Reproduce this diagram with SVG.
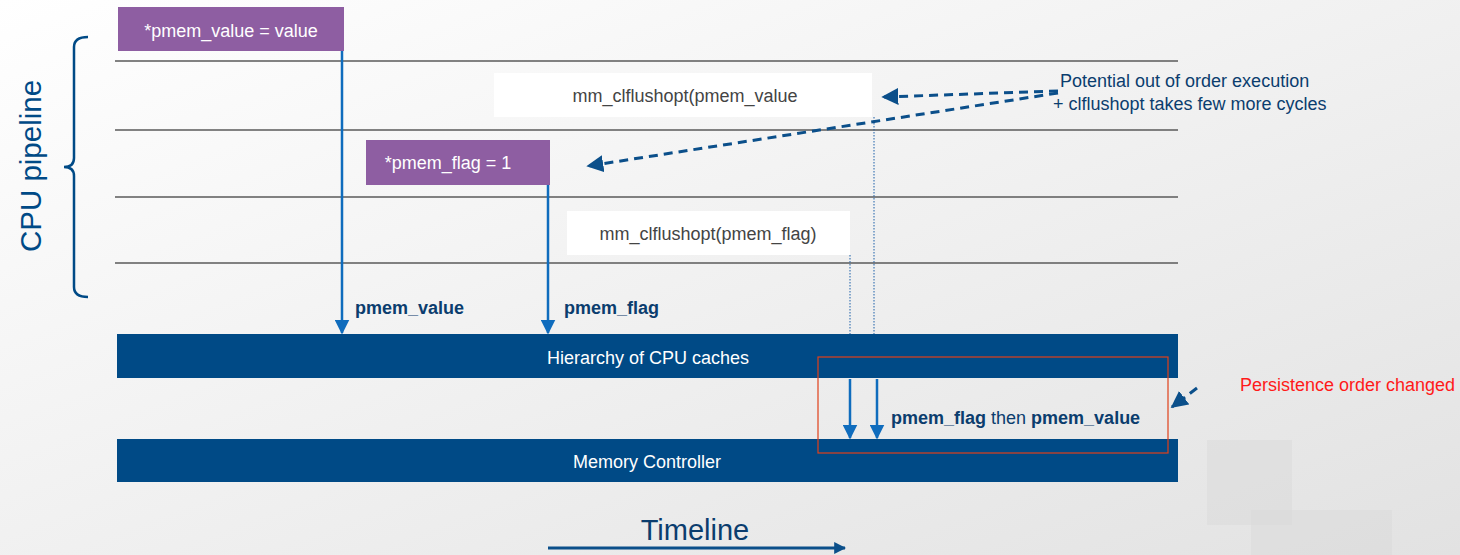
<svg xmlns="http://www.w3.org/2000/svg" width="1460" height="555" viewBox="0 0 1460 555">
  <defs>
    <linearGradient id="bg" x1="0" y1="0" x2="1" y2="1">
      <stop offset="0" stop-color="#ffffff"/>
      <stop offset="1" stop-color="#e2e2e2"/>
    </linearGradient>
    <marker id="ahSolid" viewBox="0 0 10 10" refX="9" refY="5" markerWidth="15" markerHeight="15" markerUnits="userSpaceOnUse" orient="auto">
      <path d="M0,0 L10,5 L0,10 z" fill="#0f6cbd"/>
    </marker>
    <marker id="ahDash" viewBox="0 0 10 10" refX="9" refY="5" markerWidth="17" markerHeight="17" markerUnits="userSpaceOnUse" orient="auto">
      <path d="M0,0 L10,5 L0,10 z" fill="#0b4f8a"/>
    </marker>
    <marker id="ahTime" viewBox="0 0 10 10" refX="9" refY="5" markerWidth="12" markerHeight="12" markerUnits="userSpaceOnUse" orient="auto">
      <path d="M0,0 L10,5 L0,10 z" fill="#0b4f8a"/>
    </marker>
    <style>
      .lane { stroke: #5a5a5a; stroke-width: 1.5; }
      .op { fill: #8e5ea2; }
      .opText { font-family: "Liberation Sans", Arial, sans-serif; font-size: 18px; fill: #ffffff; text-anchor: middle; }
      .flush { fill: #ffffff; }
      .flushText { font-family: "Liberation Sans", Arial, sans-serif; font-size: 18px; fill: #444444; text-anchor: middle; }
      .bar { fill: #004a86; }
      .barText { font-family: "Liberation Sans", Arial, sans-serif; font-size: 18px; fill: #ffffff; text-anchor: middle; }
      .flow { stroke: #0f6cbd; stroke-width: 2.5; fill: none; marker-end: url(#ahSolid); }
      .dot { stroke: #1a5fa8; stroke-width: 1; stroke-dasharray: 1.5 1.5; fill: none; }
      .dash { stroke: #0b4f8a; stroke-width: 3; stroke-dasharray: 9 6; fill: none; marker-end: url(#ahDash); }
      .lbl { font-family: "Liberation Sans", Arial, sans-serif; font-size: 18px; fill: #0b3d6e; }
      .bold { font-weight: bold; }
      .note { font-family: "Liberation Sans", Arial, sans-serif; font-size: 18px; fill: #0b3d6e; }
    </style>
  </defs>

  <!-- background -->
  <rect x="0" y="0" width="1460" height="555" fill="url(#bg)"/>
  <rect x="1207" y="440" width="85" height="85" fill="#d6d6d6" opacity="0.4"/>
  <rect x="1251" y="510" width="141" height="45" fill="#d6d6d6" opacity="0.4"/>

  <!-- pipeline stage separators -->
  <g id="lanes">
    <line class="lane" x1="115" y1="61" x2="1178" y2="61"/>
    <line class="lane" x1="115" y1="130" x2="1178" y2="130"/>
    <line class="lane" x1="115" y1="197" x2="1178" y2="197"/>
    <line class="lane" x1="115" y1="263" x2="1178" y2="263"/>
  </g>

  <!-- bracket and pipeline label -->
  <g id="cpu-pipeline">
    <path d="M88,37 Q74,37 74,47 L74,158 Q74,167 64,167 Q74,167 74,176 L74,287 Q74,297 88,297" fill="none" stroke="#004a86" stroke-width="2.5"/>
    <text x="30" y="166" transform="rotate(-90 30 166)" font-family="Liberation Sans, Arial, sans-serif" font-size="29.5" fill="#004a86" text-anchor="middle" dominant-baseline="central">CPU pipeline</text>
  </g>

  <!-- connectors -->
  <g id="connectors">
    <line class="flow" x1="342" y1="51" x2="342" y2="333"/>
    <line class="flow" x1="548" y1="185" x2="548" y2="333"/>
    <line class="dot" x1="850" y1="255" x2="850" y2="334"/>
    <line class="dot" x1="874" y1="117" x2="874" y2="334"/>
    <line class="flow" x1="850" y1="379" x2="850" y2="438"/>
    <line class="flow" x1="877" y1="379" x2="877" y2="438"/>
    <line class="dash" x1="1058" y1="91" x2="883" y2="97"/>
    <line class="dash" x1="1058" y1="93" x2="588" y2="166"/>
    <line class="dash" x1="1197" y1="388" x2="1172" y2="407"/>
    <line x1="548" y1="548" x2="845" y2="548" stroke="#0b4f8a" stroke-width="3" marker-end="url(#ahTime)"/>
  </g>

  <!-- operations -->
  <g id="store-value">
    <rect class="op" x="118" y="7" width="226" height="44"/>
    <text class="opText" x="231" y="37">*pmem_value = value</text>
  </g>
  <g id="flush-value">
    <rect class="flush" x="494" y="73" width="378" height="44"/>
    <text class="flushText" x="685" y="102">mm_clflushopt(pmem_value</text>
  </g>
  <g id="store-flag">
    <rect class="op" x="366" y="140" width="184" height="45"/>
    <text class="opText" x="448" y="169">*pmem_flag = 1</text>
  </g>
  <g id="flush-flag">
    <rect class="flush" x="567" y="211" width="283" height="44"/>
    <text class="flushText" x="708" y="240">mm_clflushopt(pmem_flag)</text>
  </g>

  <!-- labels on the write paths -->
  <g id="write-labels">
    <text class="lbl bold" x="355" y="314">pmem_value</text>
    <text class="lbl bold" x="564" y="314">pmem_flag</text>
  </g>

  <!-- memory hierarchy -->
  <g id="cpu-caches">
    <rect class="bar" x="117" y="334" width="1061" height="44"/>
    <text class="barText" x="648" y="364">Hierarchy of CPU caches</text>
  </g>
  <g id="memory-controller">
    <rect class="bar" x="117" y="439" width="1061" height="43"/>
    <text class="barText" x="647" y="468">Memory Controller</text>
  </g>

  <!-- persistence order -->
  <g id="persist-order">
    <rect x="818" y="357" width="350" height="96" fill="none" stroke="#e0401a" stroke-width="1.2"/>
    <text class="lbl" x="891" y="424"><tspan class="bold">pmem_flag</tspan> then <tspan class="bold">pmem_value</tspan></text>
  </g>

  <!-- annotations -->
  <g id="note-ooo">
    <text class="note" x="1060" y="87">Potential out of order execution</text>
    <text class="note" x="1053" y="110">+ clflushopt takes few more cycles</text>
  </g>
  <g id="note-persist">
    <text x="1240" y="391" font-family="Liberation Sans, Arial, sans-serif" font-size="18" fill="#ff1a1a">Persistence order changed</text>
  </g>
  <g id="timeline">
    <text x="695" y="540" font-family="Liberation Sans, Arial, sans-serif" font-size="29" fill="#0b3d6e" text-anchor="middle">Timeline</text>
  </g>
</svg>
